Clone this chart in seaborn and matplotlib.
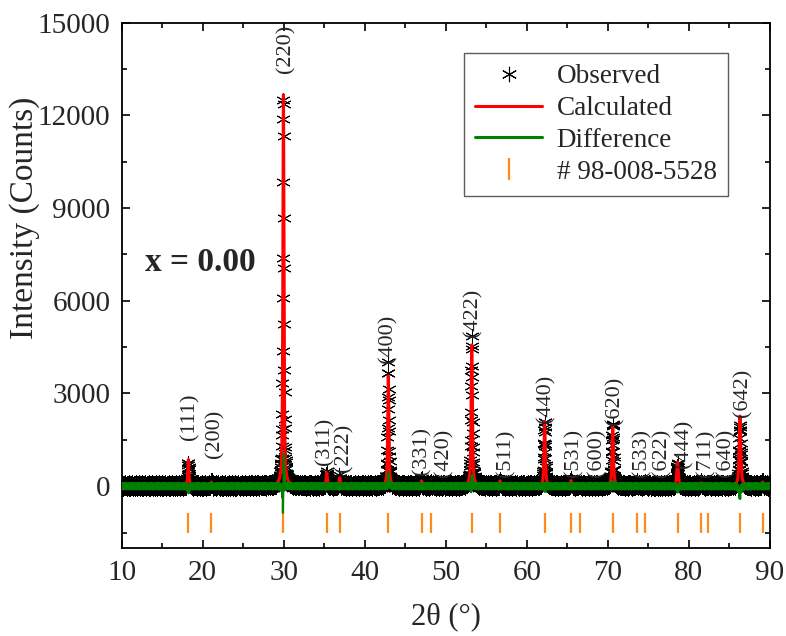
import numpy as np
import pandas as pd
import matplotlib
matplotlib.use("Agg")
import matplotlib.pyplot as plt
import seaborn as sns
from matplotlib.lines import Line2D
from matplotlib.ticker import MultipleLocator

# ---------------- data ----------------
hkl_labels = ["(111)", "(200)", "(220)", "(311)", "(222)", "(400)", "(331)",
              "(420)", "(422)", "(511)", "(440)", "(531)", "(600)", "(620)",
              "(533)", "(622)", "(444)", "(711)", "(640)", "(642)", ""]
refl_pos = [18.23, 21.07, 29.96, 35.30, 36.90, 42.90, 47.00, 48.20, 53.20,
            56.70, 62.20, 65.45, 66.50, 70.60, 73.60, 74.60, 78.60, 81.50,
            82.40, 86.30, 89.10]
calc_height = [850, 110, 12650, 420, 250, 3550, 150, 50, 4550, 150, 2080,
               160, 40, 1900, 60, 60, 760, 90, 40, 2250, 110]
obs_height = [720, 110, 12750, 400, 240, 3800, 150, 50, 4700, 150, 2050,
              160, 40, 1950, 60, 60, 680, 90, 40, 1950, 110]
peak_fwhm = [0.16, 0.16, 0.16, 0.17, 0.17, 0.17, 0.18, 0.18, 0.18, 0.19,
             0.19, 0.20, 0.20, 0.20, 0.21, 0.21, 0.22, 0.22, 0.22, 0.23, 0.23]
obs_shift = [0.0, 0.0, 0.006, 0.0, 0.0, 0.004, 0.0, 0.0, 0.004, 0.0, 0.0,
             0.0, 0.0, 0.0, 0.0, 0.0, 0.0, 0.0, 0.0, 0.006, 0.0]
background = 20
noise_pattern = [0.62, -0.35, 0.11, -0.88, 0.45, 0.93, -0.21, -0.67, 0.30,
                 -0.05, 0.78, -0.94, 0.18, 0.52, -0.41, -0.13, 0.87, -0.72,
                 0.39, 0.04, -0.58, 0.69, -0.27, 0.96, -0.83, 0.24, -0.49,
                 0.08, 0.57, -0.16, -0.99, 0.35, 0.81, -0.62, 0.13, -0.31,
                 0.74, -0.08, 0.47, -0.76, 0.21]
noise_level = 110
two_theta = np.arange(10.0, 90.0001, 0.02)


def profile(x, pos, heights, widths, shifts=None, eta=0.7):
    y = np.full_like(x, float(background))
    for i, (p, h, w) in enumerate(zip(pos, heights, widths)):
        c = p + (shifts[i] if shifts is not None else 0.0)
        d = (x - c) / w
        lor = 1.0 / (1.0 + 4.0 * d ** 2)
        gau = np.exp(-4.0 * np.log(2) * d ** 2)
        y += h * (eta * lor + (1 - eta) * gau)
    return y


calc = profile(two_theta, refl_pos, calc_height, peak_fwhm)
ideal_obs = profile(two_theta, refl_pos, obs_height, peak_fwhm, obs_shift)
noise = np.resize(np.array(noise_pattern), two_theta.size)
observed = ideal_obs + noise * (noise_level + 0.03 * ideal_obs)
difference = observed - calc

df = pd.DataFrame({"two_theta": two_theta, "observed": observed,
                   "calculated": calc, "difference": difference})

# ---------------- layout / style ----------------
label_x = [18.45, 21.55, 30.25, 35.05, 37.45, 42.8, 47.1, 49.75, 53.3, 57.45,
           62.3, 65.85, 68.65, 70.8, 74.25, 76.7, 79.4, 82.05, 84.55, 86.6]
label_y = [1490, 900, 13380, 680, 450, 3980, 360, 300, 4830, 300, 2040, 300,
           300, 1980, 300, 300, 580, 300, 300, 2240]

sns.set_theme(style="ticks")
plt.rcParams["font.family"] = ["Liberation Serif", "DejaVu Serif"]

fig = plt.figure(figsize=(7.86, 6.36), dpi=100)
ax = fig.add_axes([0.1548, 0.1384, 0.8248, 0.8259])

ORANGE = "#FF8C1A"
sns.scatterplot(data=df, x="two_theta", y="observed", ax=ax,
                marker=(6, 2, 0), s=95, color="black", edgecolor="black",
                linewidth=0.7, legend=False, zorder=2)
sns.lineplot(data=df, x="two_theta", y="calculated", ax=ax, color="#FF0000",
             lw=2.2, estimator=None, sort=False, legend=False, zorder=3)
sns.lineplot(data=df, x="two_theta", y="difference", ax=ax, color="#008000",
             lw=1.6, estimator=None, sort=False, legend=False, zorder=4)
ax.vlines(refl_pos, -1500, -880, color=ORANGE, lw=1.6, zorder=3)

for lab, lx, ly in zip(hkl_labels, label_x, label_y):
    ax.text(lx, ly, lab, rotation=90, ha="center", va="bottom", fontsize=16)

ax.text(12.9, 7250, "x = 0.00", fontsize=24, fontweight="bold",
        ha="left", va="center")

ax.set_xlim(10, 90)
ax.set_ylim(-2000, 15000)
ax.xaxis.set_major_locator(MultipleLocator(10))
ax.xaxis.set_minor_locator(MultipleLocator(5))
ax.yaxis.set_major_locator(MultipleLocator(3000))
ax.yaxis.set_minor_locator(MultipleLocator(1500))
ax.set_yticks([0, 3000, 6000, 9000, 12000, 15000])
ax.tick_params(which="both", direction="in", top=True, right=True,
               width=1.2, labelsize=21, color="black")
ax.tick_params(which="major", length=6)
ax.tick_params(which="minor", length=3.5)
ax.tick_params(axis="x", pad=9)
ax.tick_params(axis="y", pad=8)
for sp in ax.spines.values():
    sp.set_linewidth(1.3)
    sp.set_color("black")

ax.set_xlabel("2θ (°)", fontsize=22)
ax.set_ylabel("Intensity (Counts)", fontsize=24)
ax.xaxis.set_label_coords(0.5, -0.131)
ax.xaxis.label.set_va("center")
ax.yaxis.set_label_coords(-0.149, 0.628)
ax.yaxis.label.set_va("center")

handles = [
    Line2D([], [], marker=(6, 2, 0), color="black", linestyle="none",
           markersize=11, markeredgewidth=0.8),
    Line2D([], [], color="#FF0000", lw=2.2),
    Line2D([], [], color="#008000", lw=2.2),
    Line2D([], [], marker="|", color=ORANGE, linestyle="none",
           markersize=16, markeredgewidth=1.6),
]
leg = ax.legend(handles, ["Observed", "Calculated", "Difference",
                          "# 98-008-5528"],
                loc="upper left", bbox_to_anchor=(0.528, 0.9423),
                borderaxespad=0, fontsize=19.5, frameon=True, fancybox=False,
                handlelength=2.45, handletextpad=0.55, labelspacing=0.25,
                borderpad=0.42)
leg.get_frame().set_edgecolor("#333333")
leg.get_frame().set_linewidth(1.0)

fig.savefig("out.png", dpi=100)
